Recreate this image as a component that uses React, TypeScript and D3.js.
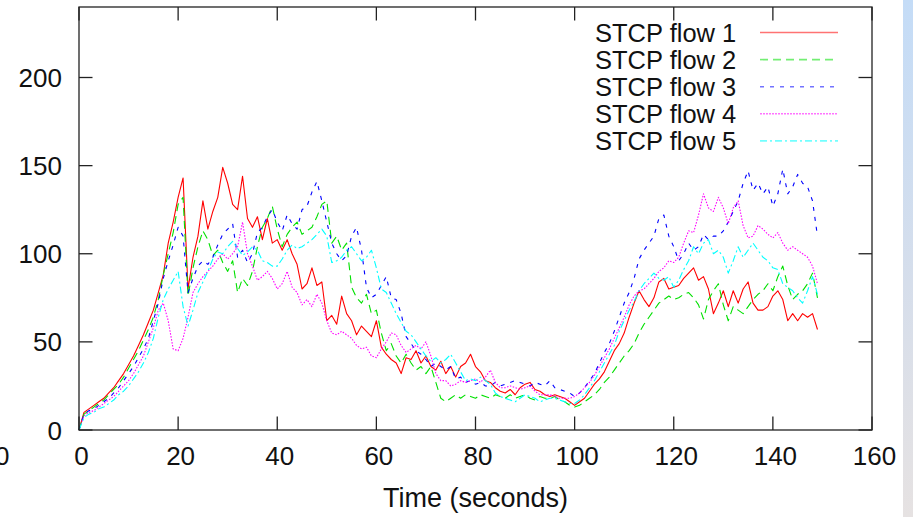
import React from "react";
import * as d3 from "d3";

// Sample times (seconds), one sample per second
const times: number[] = d3.range(0, 150);

const flow1: number[] = [
  0, 10, 12, 14, 16, 18, 21, 24, 28, 32, 37, 42, 48, 54, 61, 68, 78, 88, 106, 118,
  132, 143, 80, 98, 110, 130, 114, 124, 132, 149, 140, 128, 125, 144, 120, 115, 121, 108, 120, 106,
  108, 102, 108, 100, 94, 80, 83, 92, 82, 84, 62, 65, 60, 76, 66, 62, 54, 59, 56, 53,
  62, 47, 43, 40, 38, 32, 41, 40, 45, 38, 42, 36, 34, 39, 32, 36, 30, 36, 38, 43,
  36, 33, 28, 27, 24, 22, 21, 23, 20, 24, 26, 27, 23, 22, 20, 19, 20, 19, 18, 16,
  14, 16, 18, 22, 26, 29, 33, 39, 45, 49, 55, 64, 72, 79, 74, 70, 75, 84, 86, 80,
  81, 82, 86, 89, 92, 85, 87, 80, 66, 72, 79, 70, 79, 72, 80, 84, 72, 68, 68, 70,
  76, 79, 74, 62, 66, 62, 66, 64, 66, 57,
];

const flow2: number[] = [
  0, 9, 11, 13, 15, 17, 20, 23, 26, 30, 35, 40, 45, 51, 57, 64, 74, 88, 100, 112,
  128, 132, 76, 92, 104, 113, 108, 99, 102, 95, 90, 96, 78, 86, 82, 90, 104, 115, 120, 127,
  114, 104, 111, 115, 118, 111, 113, 115, 121, 128, 130, 106, 110, 102, 106, 81, 75, 72, 77, 66,
  68, 55, 45, 49, 42, 38, 43, 38, 34, 36, 32, 36, 27, 18, 16, 18, 20, 18, 20, 19,
  18, 20, 19, 18, 20, 19, 18, 20, 18, 19, 20, 18, 17, 19, 18, 18, 19, 17, 16, 14,
  13, 14, 16, 18, 20, 23, 27, 30, 34, 38, 42, 45, 49, 55, 60, 64, 68, 72, 74, 76,
  74, 75, 77, 78, 75, 71, 63, 74, 79, 83, 71, 62, 70, 68, 66, 70, 74, 77, 79, 83,
  79, 87, 93, 82, 74, 77, 79, 83, 89, 75,
];

const flow3: number[] = [
  0, 9, 11, 12, 14, 16, 18, 21, 24, 28, 32, 36, 41, 46, 52, 62, 72, 86, 96, 105,
  115, 110, 78, 86, 93, 96, 94, 98, 105, 111, 114, 117, 98, 102, 95, 100, 112, 115, 121, 125,
  118, 113, 122, 117, 114, 125, 127, 135, 141, 130, 118, 106, 100, 96, 99, 110, 115, 102, 81, 75,
  77, 82, 87, 75, 74, 66, 53, 49, 45, 43, 40, 36, 38, 36, 34, 36, 29, 30, 27, 28,
  26, 27, 25, 25, 27, 25, 26, 27, 28, 27, 26, 25, 27, 26, 25, 28, 24, 23, 22, 21,
  19, 21, 24, 28, 32, 38, 44, 49, 56, 64, 72, 78, 86, 97, 102, 106, 110, 120, 122, 110,
  104, 96, 100, 106, 102, 104, 111, 108, 110, 110, 113, 118, 124, 130, 140, 147, 136, 140, 134, 138,
  127, 134, 148, 134, 138, 145, 140, 138, 130, 110,
];

const flow4: number[] = [
  0, 8, 10, 11, 13, 15, 17, 19, 22, 25, 28, 32, 37, 42, 50, 58, 68, 72, 62, 46,
  45, 52, 64, 78, 83, 87, 90, 93, 97, 100, 97, 100, 104, 118, 100, 93, 85, 87, 90, 86,
  80, 83, 90, 81, 78, 71, 74, 70, 77, 72, 62, 55, 54, 56, 54, 52, 48, 46, 47, 42,
  41, 46, 50, 55, 54, 48, 44, 46, 48, 46, 50, 42, 32, 28, 28, 25, 26, 28, 27, 28,
  29, 27, 30, 34, 27, 24, 24, 25, 24, 23, 24, 25, 22, 20, 20, 20, 19, 18, 18, 18,
  19, 21, 24, 27, 31, 36, 41, 46, 52, 58, 64, 71, 76, 79, 80, 83, 86, 90, 92, 96,
  95, 98, 106, 113, 112, 122, 134, 126, 124, 132, 126, 117, 126, 130, 116, 109, 110, 116, 114, 111,
  109, 112, 106, 102, 104, 102, 100, 98, 93, 83,
];

const flow5: number[] = [
  0, 7, 9, 10, 12, 13, 15, 17, 20, 22, 25, 29, 33, 38, 44, 52, 64, 74, 80, 85,
  90, 70, 59, 68, 78, 84, 90, 97, 101, 100, 104, 107, 103, 99, 101, 104, 102, 96, 95, 93,
  93, 97, 102, 105, 103, 104, 106, 108, 111, 114, 110, 95, 96, 98, 102, 104, 100, 96, 98, 102,
  92, 80, 78, 72, 66, 61, 56, 54, 50, 46, 42, 39, 41, 38, 40, 43, 38, 33, 28, 29,
  28, 30, 28, 26, 21, 19, 18, 17, 16, 18, 20, 19, 18, 16, 17, 18, 18, 17, 16, 15,
  15, 17, 20, 24, 28, 33, 38, 43, 48, 56, 62, 68, 73, 79, 83, 86, 89, 86, 85, 87,
  81, 85, 91, 96, 104, 100, 106, 108, 100, 102, 98, 89, 96, 104, 98, 102, 106, 102, 98, 96,
  92, 91, 83, 81, 79, 75, 72, 79, 87, 77,
];

const seriesNames: string[] = ["STCP flow 1", "STCP flow 2", "STCP flow 3", "STCP flow 4", "STCP flow 5"];
const seriesValues: number[][] = [flow1, flow2, flow3, flow4, flow5];
const xTicks: number[] = [0, 20, 40, 60, 80, 100, 120, 140, 160];
const yTicks: number[] = [0, 50, 100, 150, 200];

const colors = ["#ff0000", "#00e000", "#0000ff", "#ff00ff", "#00ffff"];
const dashes = ["none", "8,5", "4,6", "1.5,1.5", "7,3,2,3"];

const W = 913;
const H = 517;
const L = 79;
const R = 872;
const T = 7;
const B = 430;
const FONT = "'Liberation Sans', Arial, Helvetica, sans-serif";

export default function App() {
  const x = d3.scaleLinear().domain([0, 160]).range([L, R]);
  const y = d3.scaleLinear().domain([0, 240]).range([B, T]);
  const line = d3
    .line<number>()
    .x((_, i) => x(times[i]))
    .y((d) => y(d));
  const tickLen = 13.5;
  const legendX0 = 760;
  const legendX1 = 838;
  const legendY = (i: number) => 32.5 + i * 27.1;

  return (
    <svg
      width={W}
      height={H}
      style={{ position: "absolute", left: 0, top: 0, display: "block" }}
      fontFamily={FONT}
    >
      <defs>
        <linearGradient id="strip" x1="0" y1="0" x2="0" y2="1">
          <stop offset="0" stopColor="#c4dcf7" />
          <stop offset="0.55" stopColor="#d6deeb" />
          <stop offset="1" stopColor="#e6e2e2" />
        </linearGradient>
      </defs>
      <rect x={0} y={0} width={W} height={H} fill="#ffffff" />
      <rect x={903} y={0} width={10} height={H} fill="url(#strip)" />

      {/* data lines */}
      {seriesValues.map((vals, k) => (
        <path
          key={k}
          d={line(vals) || ""}
          fill="none"
          stroke={colors[k]}
          strokeWidth={1.1}
          strokeDasharray={dashes[k]}
          strokeLinejoin="round"
        />
      ))}

      {/* frame */}
      <rect x={L} y={T} width={R - L} height={B - T} fill="none" stroke="#222" strokeWidth={1.3} />

      {/* x ticks */}
      {xTicks.map((t) => (
        <g key={"x" + t}>
          <line x1={x(t)} x2={x(t)} y1={B} y2={B - tickLen} stroke="#222" strokeWidth={1.3} />
          <line x1={x(t)} x2={x(t)} y1={T} y2={T + tickLen} stroke="#222" strokeWidth={1.3} />
          <text x={x(t) + 2.5} y={465} textAnchor="middle" fontSize={26} fill="#111">
            {t}
          </text>
        </g>
      ))}

      {/* y ticks */}
      {yTicks.map((v) => (
        <g key={"y" + v}>
          <line x1={L} x2={L + tickLen} y1={y(v)} y2={y(v)} stroke="#222" strokeWidth={1.3} />
          <line x1={R} x2={R - tickLen} y1={y(v)} y2={y(v)} stroke="#222" strokeWidth={1.3} />
          <text x={62} y={y(v) + 9.5} textAnchor="end" fontSize={26} fill="#111">
            {v}
          </text>
        </g>
      ))}

      {/* cut-off label at left edge */}
      <text x={9.5} y={465} textAnchor="end" fontSize={26} fill="#111">
        0
      </text>

      {/* axis title */}
      <text x={(L + R) / 2} y={507} textAnchor="middle" fontSize={27} fill="#111">
        Time (seconds)
      </text>

      {/* legend */}
      {seriesNames.map((name, i) => (
        <g key={name}>
          <text x={595} y={legendY(i) + 9} fontSize={25.5} fill="#111">
            {name}
          </text>
          <line
            x1={legendX0}
            x2={legendX1}
            y1={legendY(i)}
            y2={legendY(i)}
            stroke={colors[i]}
            strokeOpacity={0.55}
            strokeWidth={1.6}
            strokeDasharray={dashes[i] === "1.5,1.5" ? "2,1" : dashes[i]}
          />
        </g>
      ))}
    </svg>
  );
}
